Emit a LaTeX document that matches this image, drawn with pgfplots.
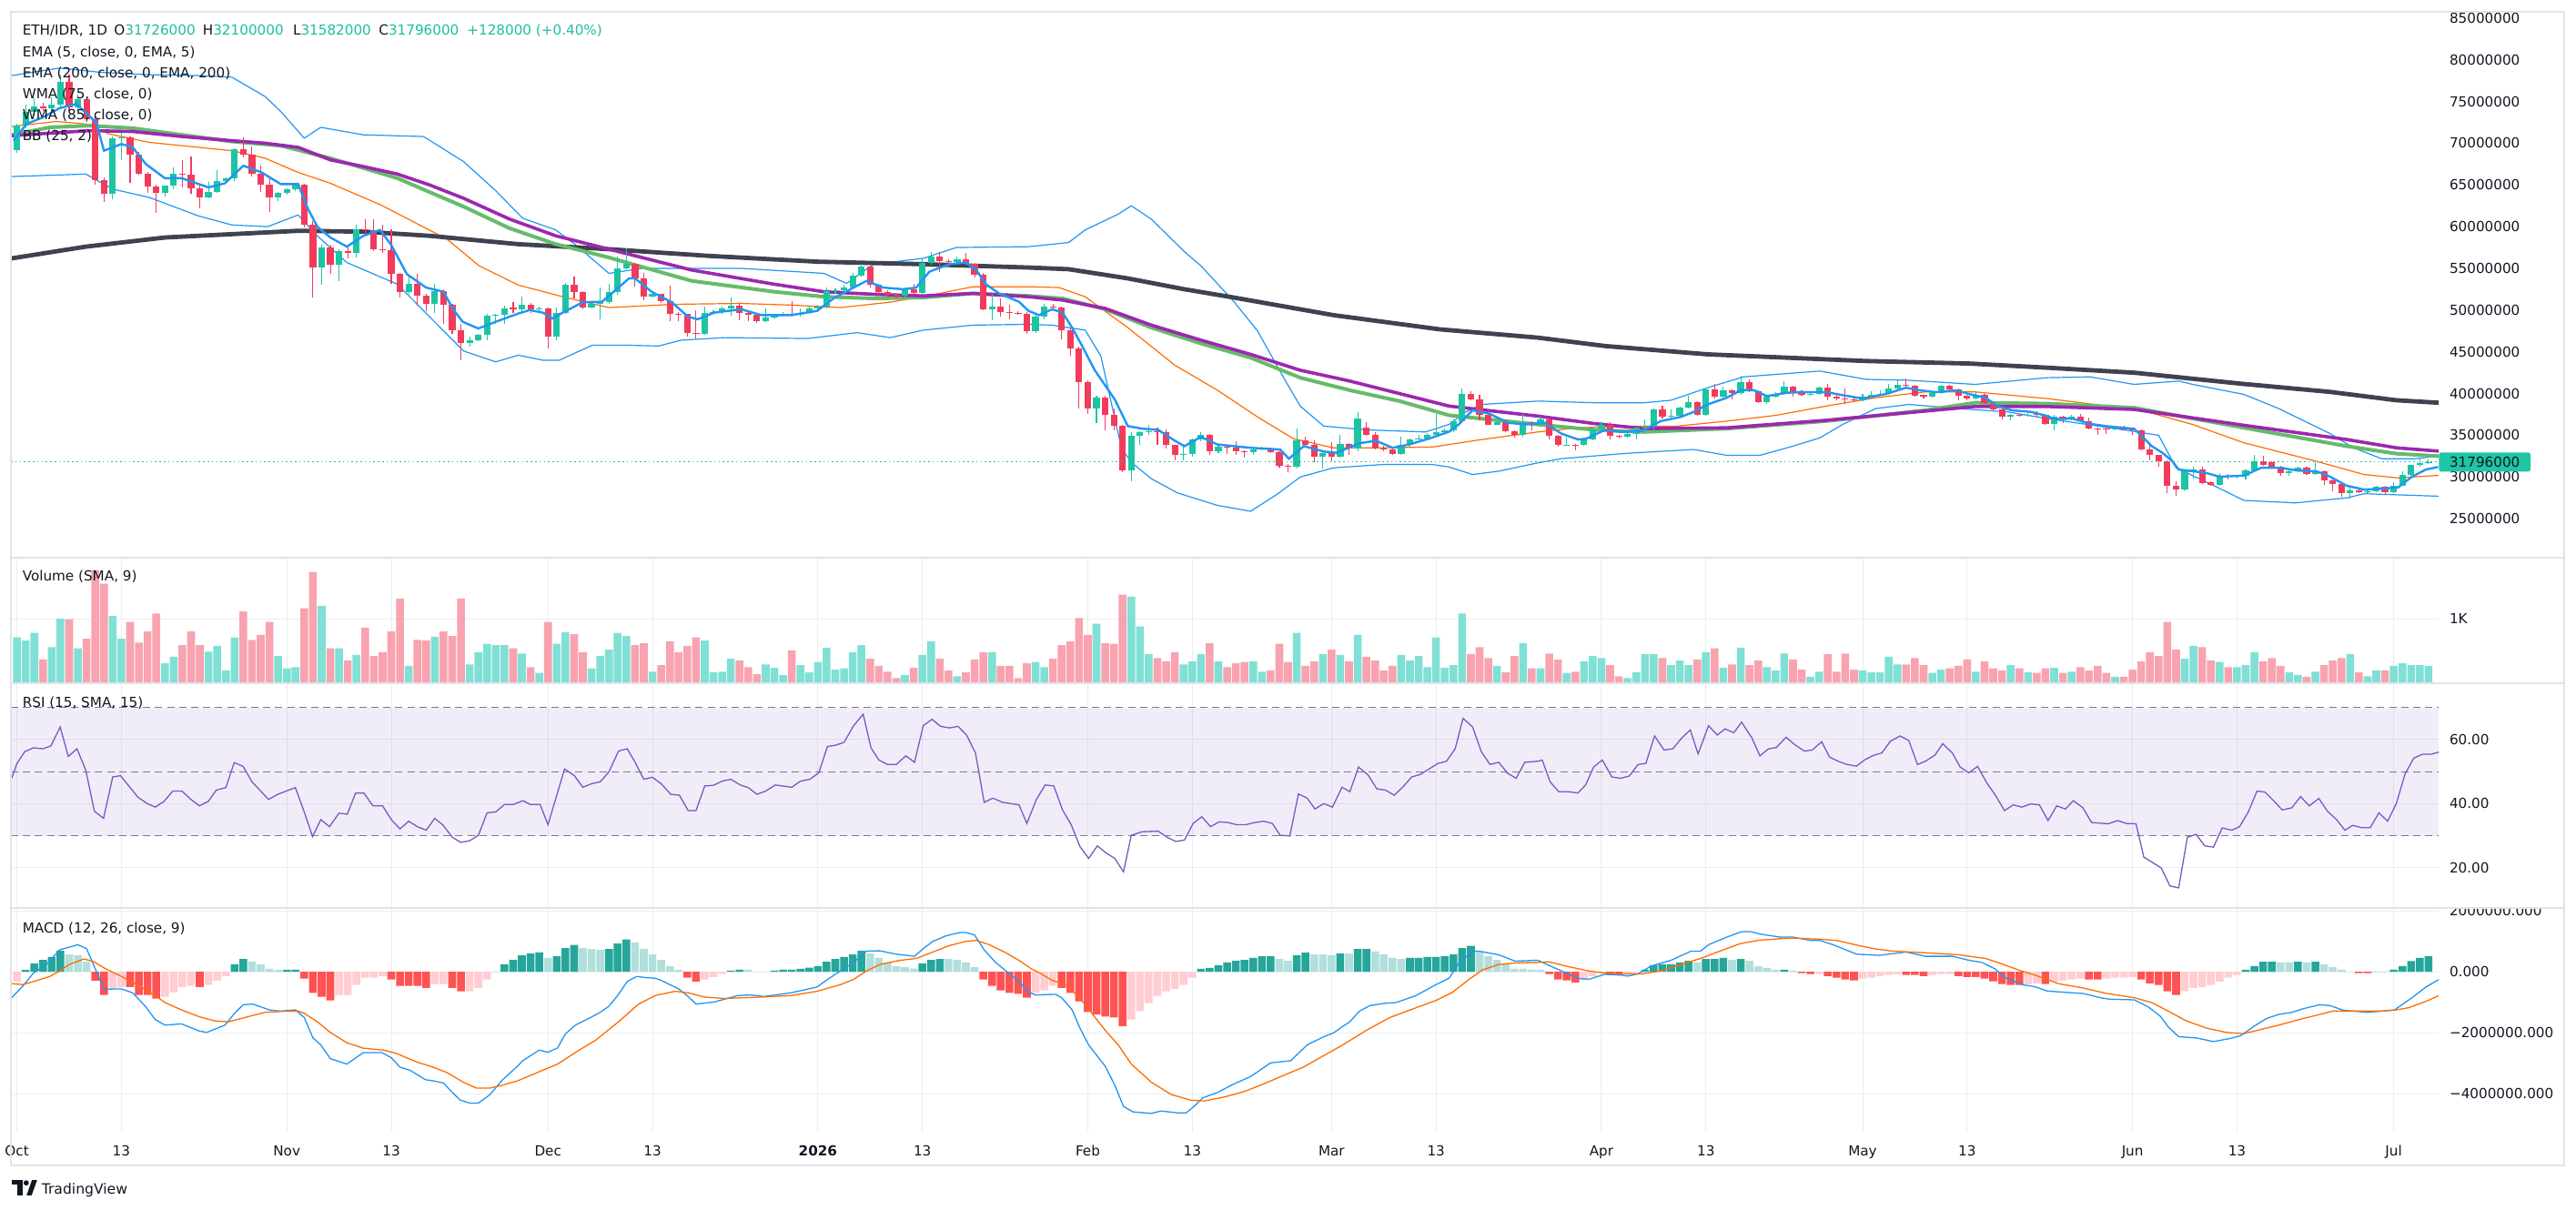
\documentclass[border=0pt]{standalone}
\usepackage{pgfplots}
\pgfplotsset{compat=1.18}
\usepackage{pgfplotstable}
\usepgfplotslibrary{fillbetween}
\usepackage{fontspec}
\setmainfont{DejaVu Sans}

\definecolor{upc}{HTML}{1DC4A4}
\definecolor{dnc}{HTML}{F23B5B}
\definecolor{volup}{HTML}{80E0D5}
\definecolor{voldn}{HTML}{F8A3AF}
\definecolor{emablk}{HTML}{3F4250}
\definecolor{wmag}{HTML}{66BB6A}
\definecolor{wmap}{HTML}{9C27B0}
\definecolor{bbo}{HTML}{FF6D00}
\definecolor{bbb}{HTML}{2196F3}
\definecolor{rsic}{HTML}{7E57C2}
\definecolor{hA}{HTML}{26A69A}
\definecolor{hB}{HTML}{B2DFDB}
\definecolor{hC}{HTML}{FFCDD2}
\definecolor{hD}{HTML}{FF5252}
\definecolor{gridc}{HTML}{EBEDF1}
\definecolor{textc}{HTML}{131722}
\definecolor{tealt}{HTML}{1DBF9F}
\definecolor{pricebg}{HTML}{1EC6A6}
\definecolor{framec}{HTML}{E0E3EB}
\definecolor{dashc}{HTML}{787B86}

\newcommand\tf{\fontsize{7.6}{9.1}\selectfont}

% d o h l c vol(K) macdhist histclass
\pgfplotstableread{
d o h l c v hm hk
0 69.2 72.3 68.8 72.1 0.71 -0.32 2
1 72.1 74.6 71.8 73.7 0.66 0.06 0
2 73.7 75.4 73.3 74.4 0.78 0.28 0
3 74.4 74.8 73.9 74.2 0.37 0.39 0
4 74.2 75.5 73.9 74.6 0.56 0.49 0
5 74.6 78.2 74.4 77.3 1.00 0.69 0
6 77.3 78.2 73.9 74.3 0.99 0.57 1
7 74.3 75.8 73.8 75.3 0.54 0.54 1
8 75.3 75.6 72.5 72.9 0.69 0.33 1
9 72.9 73.5 65.0 65.6 1.75 -0.29 3
10 65.6 65.9 63.0 63.9 1.54 -0.76 3
11 63.9 70.8 63.3 70.6 1.04 -0.53 2
12 70.6 71.2 68.0 70.7 0.69 -0.50 2
13 70.7 70.8 65.2 68.6 0.95 -0.50 3
14 68.6 68.9 66.2 66.3 0.63 -0.76 3
15 66.3 66.5 64.0 64.8 0.80 -0.76 3
16 64.8 65.0 61.6 64.0 1.08 -0.88 3
17 64.0 64.9 63.6 64.9 0.31 -0.82 2
18 64.9 67.1 64.5 66.3 0.41 -0.67 2
19 66.3 68.0 64.7 66.2 0.59 -0.50 2
20 66.2 68.4 63.9 64.6 0.80 -0.46 2
21 64.6 64.9 62.2 63.5 0.59 -0.50 3
22 63.5 65.3 63.4 64.2 0.49 -0.43 2
23 64.2 66.8 64.0 65.5 0.58 -0.29 2
24 65.5 65.9 65.4 65.8 0.20 -0.14 2
25 65.8 69.4 65.5 69.3 0.71 0.25 0
26 69.3 70.7 68.3 68.6 1.11 0.42 0
27 68.6 69.6 66.0 66.3 0.67 0.33 1
28 66.3 67.3 64.2 65.0 0.75 0.24 1
29 65.0 66.0 61.8 63.5 0.95 0.10 1
30 63.5 64.2 63.1 64.0 0.42 0.06 1
31 64.0 64.6 63.8 64.5 0.23 0.06 0
32 64.5 65.2 64.3 65.0 0.25 0.07 0
33 65.0 65.1 59.9 60.2 1.16 -0.22 3
34 60.2 60.7 51.5 55.1 1.72 -0.69 3
35 55.1 57.8 53.0 57.5 1.20 -0.82 3
36 57.5 57.8 54.3 55.4 0.54 -0.94 3
37 55.4 57.3 53.5 57.1 0.54 -0.76 2
38 57.1 57.5 56.2 56.8 0.35 -0.76 2
39 56.8 60.2 56.3 59.7 0.44 -0.43 2
40 59.7 60.9 58.8 59.6 0.86 -0.19 2
41 59.6 60.9 57.1 57.3 0.42 -0.19 2
42 57.3 60.2 56.8 57.2 0.48 -0.14 2
43 57.2 59.7 53.1 54.3 0.80 -0.25 3
44 54.3 54.4 51.5 52.2 1.31 -0.46 3
45 52.2 54.2 52.0 53.1 0.27 -0.46 3
46 53.1 54.3 50.5 51.7 0.67 -0.46 3
47 51.7 52.0 49.9 50.8 0.66 -0.53 3
48 50.8 53.1 49.7 52.3 0.72 -0.40 2
49 52.3 52.5 48.3 50.6 0.80 -0.40 2
50 50.6 50.8 47.1 47.6 0.73 -0.53 3
51 47.6 48.4 44.0 46.1 1.31 -0.64 3
52 46.1 46.8 45.6 46.4 0.29 -0.64 2
53 46.4 47.2 46.3 47.0 0.48 -0.53 2
54 47.0 49.6 46.4 49.3 0.61 -0.25 2
55 49.3 49.5 48.4 49.4 0.59 0.01 0
56 49.4 50.5 48.4 50.2 0.59 0.25 0
57 50.3 51.0 49.7 50.1 0.54 0.39 0
58 50.1 51.6 49.6 50.6 0.46 0.54 0
59 50.6 50.9 49.7 50.1 0.25 0.60 0
60 50.1 50.4 49.9 50.2 0.16 0.64 0
61 50.2 50.3 45.4 46.8 0.95 0.46 1
62 46.8 50.3 46.4 49.7 0.61 0.51 0
63 49.7 53.3 49.5 53.0 0.79 0.78 0
64 53.0 54.0 51.4 52.2 0.76 0.88 0
65 52.2 52.3 50.1 50.3 0.48 0.78 1
66 50.3 51.1 50.2 50.8 0.23 0.75 1
67 50.8 52.7 48.9 51.0 0.42 0.72 1
68 51.0 53.1 50.8 52.2 0.52 0.75 0
69 52.2 56.4 51.8 55.0 0.78 0.93 0
70 55.0 57.4 54.9 55.5 0.73 1.06 0
71 55.5 55.6 52.8 53.8 0.59 0.96 1
72 53.8 54.4 51.2 51.6 0.62 0.75 1
73 51.6 52.1 51.5 51.9 0.18 0.57 1
74 51.9 52.0 50.9 51.1 0.28 0.39 1
75 51.1 52.9 48.7 49.5 0.65 0.18 1
76 49.6 49.8 48.7 49.5 0.48 0.06 1
77 49.5 49.6 46.8 47.3 0.58 -0.19 3
78 47.3 50.0 46.6 47.2 0.71 -0.32 3
79 47.2 50.4 47.0 49.7 0.66 -0.25 2
80 49.7 50.0 49.5 49.8 0.17 -0.17 2
81 49.8 50.4 49.6 50.2 0.18 -0.07 2
82 50.2 51.5 49.3 50.5 0.38 0.04 0
83 50.5 50.9 48.8 49.7 0.35 0.07 0
84 49.7 49.8 48.7 49.4 0.25 0.07 1
85 49.4 49.5 48.5 48.7 0.14 0.01 1
86 48.7 50.2 48.6 49.1 0.29 0.00 1
87 49.1 49.6 49.0 49.5 0.24 0.04 0
88 49.5 49.8 49.3 49.6 0.13 0.07 0
89 49.6 51.1 49.2 49.4 0.51 0.07 0
90 49.4 50.2 49.2 49.7 0.28 0.10 0
91 49.7 50.5 49.6 50.2 0.17 0.14 0
92 50.2 50.6 50.0 50.4 0.33 0.18 0
93 50.4 52.7 50.2 52.3 0.55 0.33 0
94 52.3 52.6 52.0 52.4 0.21 0.42 0
95 52.4 53.0 52.2 52.7 0.23 0.49 0
96 52.7 54.5 52.5 54.1 0.48 0.57 0
97 54.1 55.5 54.0 55.2 0.59 0.69 0
98 55.2 55.3 52.7 53.0 0.38 0.60 1
99 53.0 53.1 51.6 52.2 0.27 0.46 1
100 52.2 52.4 51.5 51.8 0.18 0.31 1
101 51.8 52.0 51.4 51.7 0.08 0.18 1
102 51.7 52.7 51.5 52.5 0.13 0.15 1
103 52.5 53.1 51.8 52.1 0.24 0.11 1
104 52.1 56.2 51.9 55.6 0.44 0.28 0
105 55.6 57.0 55.4 56.4 0.65 0.39 0
106 56.4 57.0 54.6 55.9 0.38 0.42 0
107 55.9 56.1 55.6 55.8 0.20 0.42 1
108 55.8 56.4 55.6 56.1 0.11 0.39 1
109 56.1 56.8 55.3 55.5 0.17 0.31 1
110 55.5 55.6 53.9 54.2 0.37 0.15 1
111 54.2 54.5 50.0 50.1 0.48 -0.25 3
112 50.1 51.9 48.8 50.4 0.48 -0.46 3
113 50.4 51.4 49.2 49.8 0.27 -0.61 3
114 49.8 50.6 48.9 49.7 0.27 -0.69 3
115 49.7 49.9 49.4 49.6 0.08 -0.72 3
116 49.6 49.8 47.1 47.5 0.31 -0.85 3
117 47.5 49.4 47.3 49.2 0.33 -0.69 2
118 49.2 50.7 48.9 50.4 0.25 -0.61 2
119 50.4 50.8 50.1 50.3 0.38 -0.46 2
120 50.3 50.4 46.5 47.6 0.59 -0.53 3
121 47.6 47.8 44.5 45.4 0.65 -0.69 3
122 45.4 45.6 38.2 41.4 1.01 -0.97 3
123 41.4 41.6 37.6 38.2 0.75 -1.32 3
124 38.2 39.7 36.5 39.5 0.92 -1.40 3
125 39.5 39.7 35.6 37.5 0.62 -1.47 3
126 37.5 38.2 35.6 36.1 0.61 -1.50 3
127 36.1 36.3 30.6 30.8 1.37 -1.78 3
128 30.8 35.4 29.5 34.9 1.34 -1.57 2
129 34.9 35.5 33.8 35.4 0.88 -1.29 2
130 35.4 36.3 35.0 35.5 0.45 -1.03 2
131 35.5 35.9 33.8 35.4 0.39 -0.79 2
132 35.4 35.7 33.4 33.8 0.34 -0.64 2
133 33.8 33.9 32.0 32.6 0.48 -0.56 2
134 32.6 33.6 32.0 32.8 0.29 -0.43 2
135 32.8 34.6 32.4 34.5 0.34 -0.19 2
136 34.5 35.4 34.3 35.1 0.45 0.10 0
137 35.1 35.2 32.6 33.1 0.62 0.13 0
138 33.1 34.0 32.9 33.6 0.34 0.21 0
139 33.6 33.7 32.8 33.5 0.25 0.31 0
140 33.5 34.3 32.7 33.1 0.31 0.36 0
141 33.1 33.2 32.3 33.0 0.33 0.39 0
142 33.0 33.4 32.7 33.3 0.34 0.46 0
143 33.3 33.6 33.2 33.4 0.18 0.51 0
144 33.4 33.5 32.9 33.0 0.20 0.51 0
145 33.0 33.1 31.1 31.3 0.61 0.42 1
146 31.3 31.6 30.6 31.2 0.33 0.36 1
147 31.2 35.8 31.0 34.4 0.78 0.54 0
148 34.4 34.8 33.6 33.8 0.27 0.63 0
149 33.8 34.4 31.8 32.4 0.34 0.57 1
150 32.4 33.0 31.0 32.9 0.45 0.57 1
151 32.9 34.2 31.9 32.4 0.52 0.54 1
152 32.4 35.0 32.3 34.0 0.44 0.60 0
153 34.0 34.1 32.6 33.4 0.34 0.60 1
154 33.4 37.8 33.1 37.0 0.75 0.75 0
155 35.9 36.6 34.9 35.0 0.41 0.75 0
156 35.0 35.4 33.3 33.4 0.35 0.67 1
157 33.4 33.7 33.1 33.3 0.20 0.57 1
158 33.3 33.4 32.6 32.8 0.27 0.46 1
159 32.8 34.8 32.6 33.8 0.44 0.42 1
160 33.8 34.6 33.6 34.5 0.35 0.46 0
161 34.5 35.0 34.4 34.6 0.42 0.46 0
162 34.6 35.3 34.5 35.0 0.25 0.49 0
163 35.0 37.6 34.8 35.4 0.71 0.49 0
164 35.4 35.8 35.2 35.6 0.24 0.51 0
165 35.6 36.9 35.4 36.7 0.28 0.57 0
166 36.7 40.6 36.5 40.0 1.08 0.78 0
167 40.0 40.3 39.2 39.3 0.45 0.85 0
168 39.3 39.9 36.8 37.5 0.56 0.67 1
169 37.5 38.1 36.2 36.3 0.39 0.51 1
170 36.3 36.9 36.2 36.6 0.27 0.39 1
171 36.6 36.9 35.4 35.5 0.17 0.28 1
172 35.5 35.6 34.7 35.0 0.42 0.10 1
173 35.0 37.6 34.8 36.6 0.62 0.10 1
174 36.6 36.7 35.6 36.3 0.23 0.07 1
175 36.3 37.2 36.2 36.9 0.23 0.07 1
176 36.9 37.0 34.5 34.9 0.46 -0.07 3
177 34.9 35.0 33.6 33.8 0.37 -0.25 3
178 33.8 34.7 33.7 33.9 0.16 -0.28 3
179 33.9 34.0 33.2 33.8 0.18 -0.35 3
180 33.8 34.6 33.7 34.5 0.34 -0.25 2
181 34.5 36.0 34.4 35.8 0.42 -0.14 2
182 35.8 36.6 35.6 36.3 0.39 -0.04 2
183 36.3 36.6 34.5 34.9 0.28 -0.10 3
184 34.9 35.1 34.6 34.8 0.11 -0.10 3
185 34.8 35.3 34.7 35.2 0.08 -0.07 2
186 35.2 35.9 34.5 35.9 0.17 -0.04 2
187 35.9 36.9 35.8 36.0 0.45 0.07 0
188 36.0 38.2 35.4 38.1 0.45 0.21 0
189 38.1 38.5 37.0 37.2 0.39 0.25 0
190 37.2 38.1 37.1 37.3 0.28 0.25 0
191 37.3 38.4 37.2 38.3 0.35 0.31 0
192 38.3 39.7 38.2 39.0 0.28 0.36 0
193 39.0 39.1 37.3 37.4 0.37 0.31 1
194 37.4 40.6 37.3 40.5 0.48 0.42 0
195 40.5 41.2 39.4 39.6 0.54 0.42 0
196 39.6 40.8 39.5 40.4 0.24 0.46 0
197 40.4 40.5 39.3 40.1 0.29 0.39 1
198 40.1 42.1 39.8 41.4 0.55 0.42 0
199 41.4 41.7 40.2 40.3 0.28 0.36 1
200 40.3 40.4 38.9 39.0 0.35 0.18 1
201 39.0 39.7 38.8 39.6 0.25 0.13 1
202 39.6 40.2 39.5 40.0 0.20 0.07 1
203 40.0 41.5 39.9 40.8 0.46 0.07 0
204 40.8 40.9 39.6 40.2 0.37 0.04 1
205 40.2 40.4 39.7 39.8 0.21 -0.04 3
206 39.8 40.1 39.7 40.0 0.10 -0.07 3
207 40.0 40.8 39.9 40.7 0.18 -0.07 2
208 40.7 41.2 39.2 39.6 0.45 -0.14 3
209 39.6 39.8 39.2 39.4 0.18 -0.19 3
210 39.4 40.6 38.8 39.3 0.46 -0.25 3
211 39.3 39.5 39.0 39.2 0.21 -0.28 3
212 39.2 40.0 39.1 39.6 0.20 -0.22 2
213 39.6 40.3 39.5 39.9 0.17 -0.19 2
214 39.9 40.4 39.8 40.0 0.17 -0.14 2
215 40.0 41.2 39.9 40.6 0.41 -0.10 2
216 40.6 41.7 40.5 41.0 0.29 -0.07 2
217 41.0 41.8 40.8 40.9 0.29 -0.10 3
218 40.9 41.0 39.6 39.7 0.39 -0.10 3
219 39.8 39.9 39.4 39.6 0.28 -0.14 3
220 39.6 40.2 39.5 40.1 0.16 -0.10 2
221 40.1 41.0 40.0 40.9 0.21 -0.07 2
222 40.9 41.0 40.2 40.5 0.23 -0.07 2
223 40.5 40.6 39.2 39.7 0.27 -0.14 3
224 39.7 39.9 39.2 39.4 0.37 -0.17 3
225 39.4 40.3 39.3 39.9 0.18 -0.17 3
226 39.9 40.0 38.8 38.9 0.34 -0.22 3
227 38.9 39.1 38.0 38.1 0.23 -0.31 3
228 38.1 38.3 36.9 37.2 0.20 -0.40 3
229 37.2 37.6 36.8 37.5 0.28 -0.43 3
230 37.5 37.6 37.2 37.4 0.23 -0.43 3
231 37.4 37.7 37.2 37.5 0.17 -0.40 2
232 37.6 37.9 37.1 37.5 0.16 -0.38 2
233 37.5 37.6 36.3 36.4 0.23 -0.40 3
234 36.4 37.4 35.6 37.2 0.24 -0.32 2
235 37.2 37.3 36.5 36.9 0.16 -0.28 2
236 36.9 37.5 36.8 37.2 0.18 -0.25 2
237 37.2 37.6 36.6 36.7 0.25 -0.22 2
238 36.7 37.1 35.7 35.8 0.20 -0.25 3
239 35.8 35.9 35.0 35.7 0.27 -0.25 3
240 35.8 36.1 35.2 35.7 0.16 -0.22 2
241 35.7 36.0 35.6 35.9 0.10 -0.19 2
242 35.9 36.1 35.6 35.7 0.10 -0.19 2
243 35.7 35.8 35.0 35.6 0.21 -0.17 2
244 35.6 35.7 33.2 33.3 0.34 -0.25 3
245 33.3 33.9 32.0 32.6 0.48 -0.38 3
246 32.6 32.7 31.2 31.9 0.42 -0.43 3
247 31.9 32.0 28.1 28.9 0.95 -0.64 3
248 28.9 29.5 27.7 28.5 0.52 -0.76 3
249 28.5 30.9 28.4 30.7 0.38 -0.64 2
250 30.7 31.2 29.8 30.9 0.58 -0.53 2
251 30.9 31.2 29.2 29.3 0.56 -0.50 2
252 29.4 29.5 28.9 29.1 0.35 -0.43 2
253 29.1 30.5 29.0 30.2 0.33 -0.32 2
254 30.2 30.4 29.7 30.0 0.25 -0.19 2
255 30.0 30.3 29.8 30.1 0.25 -0.10 2
256 30.1 30.9 29.7 30.8 0.28 0.06 0
257 30.8 32.7 30.6 31.9 0.48 0.19 0
258 31.9 32.5 31.3 31.5 0.34 0.33 0
259 31.8 31.9 31.0 31.2 0.39 0.33 0
260 31.2 31.3 30.1 30.5 0.27 0.31 1
261 30.5 30.9 30.1 30.7 0.17 0.31 1
262 30.7 31.2 30.6 31.1 0.13 0.33 0
263 31.1 31.2 30.3 30.4 0.10 0.31 1
264 30.4 31.8 30.3 30.7 0.18 0.33 0
265 30.7 30.8 29.1 29.6 0.28 0.24 1
266 29.6 29.8 28.3 29.2 0.35 0.15 1
267 29.2 29.3 27.6 28.1 0.39 0.07 1
268 28.1 28.7 27.4 28.4 0.45 0.01 1
269 28.4 28.6 28.1 28.2 0.17 -0.04 3
270 28.2 28.5 28.0 28.3 0.11 -0.04 3
271 28.3 29.0 28.2 28.8 0.20 0.01 0
272 28.8 28.9 28.0 28.2 0.20 0.01 0
273 28.2 29.4 28.1 29.0 0.27 0.07 0
274 29.0 30.7 28.9 30.3 0.31 0.19 0
275 30.3 31.5 30.2 31.4 0.28 0.35 0
276 31.4 32.2 31.2 31.7 0.28 0.46 0
277 31.726 32.1 31.582 31.796 0.27 0.51 0
}\cand

\pgfplotstableread{
d y
-0.6 56.2
7.9 57.6
17 58.7
24.7 59.1
32.3 59.5
39.8 59.4
47.4 58.9
57.6 57.9
68 57.3
79.4 56.5
92 55.8
104.1 55.5
116.2 55.1
120.8 54.9
127.6 53.8
134.1 52.5
139.8 51.5
151.2 49.4
163.4 47.7
174.7 46.7
182.4 45.7
194.2 44.7
212.4 43.9
224.2 43.6
233.2 43.1
243.2 42.5
255.3 41.2
265.7 40.2
273.3 39.2
278.2 38.9
}\emaTwo

\pgfplotstableread{
d y
-0.6 70.9
3.8 71.2
8.3 71.5
13.3 71.4
18.95 70.8
24.7 70.3
28.5 70.0
32.3 69.5
36 68.0
39.8 67.2
43.7 66.3
47.4 65.0
51.3 63.4
56.6 60.9
61.9 58.9
68 57.3
77.5 54.8
87 53.1
92.7 52.2
98.4 51.9
104.1 51.7
109.8 52.0
116.2 51.6
120.1 51.2
125 50.2
130.3 48.2
136 46.4
141.7 44.7
147.4 42.8
153.1 41.5
158.8 40.0
164.5 38.5
174.7 37.3
181.2 36.4
186.9 35.8
196.4 35.9
207.8 36.8
219.2 37.9
224.9 38.45
233.2 38.45
243.2 38.1
255.8 36.2
267.6 34.5
273.3 33.5
278.2 33.1
}\wmaP

\pgfplotstableread{
d y
-0.6 71.0
3.8 71.9
8.3 72.1
13.3 71.8
18.95 71.0
24.7 70.2
30.3 69.7
36 68.2
43.7 65.8
51.3 62.4
56.6 59.8
61.9 57.9
68 56.3
77.5 53.5
87 52.2
92.7 51.6
98.4 51.4
104.1 51.5
109.8 52.0
116.2 51.7
120.1 51.4
125 50.1
130.3 47.9
136 46.0
141.7 44.3
147.4 41.9
153.1 40.4
158.8 39.1
164.5 37.4
174.7 36.3
181.2 35.65
186.9 35.4
196.4 35.8
207.8 36.7
219.2 38.0
224.9 38.9
233.2 38.8
243.2 38.3
255.8 35.9
267.6 33.7
273.3 32.8
278.2 32.5
}\wmaG

\pgfplotstableread{
d y
-0.6 72.0
4.5 72.6
7.9 72.3
10.6 71.1
15.2 70.1
18.95 69.7
24.7 69.1
28.5 68.2
32.3 66.5
36 65.2
41.8 62.6
49.4 58.5
53.1 55.3
57.6 53.0
62.7 51.6
68 50.3
75.6 50.7
83.2 50.8
88.9 50.6
94.6 50.3
100.3 50.95
106 52.0
109.8 52.8
116.2 52.8
119.7 52.7
122.7 51.6
127.6 47.9
133 43.4
137.9 40.4
142.5 37.2
146.6 34.6
151.2 33.5
156.9 33.5
162.6 33.6
168.3 34.5
174.7 35.4
179.3 35.9
185 36.1
190.7 36.1
196.4 36.7
202.1 37.4
207.8 38.5
213.5 39.5
219.2 40.2
224.9 40.2
233.2 39.4
244 38.0
249.9 36.3
255.8 34.1
263.7 32.0
269.6 30.3
273.5 29.9
278.2 30.2
}\bbBasis

\pgfplotstableread{
d y
-0.6 78.1
4.9 79.0
9.5 78.5
15.2 78.2
20.8 78.1
24.7 77.9
28.5 75.6
30.3 73.8
33 70.6
34.9 71.9
39.8 71.0
46.7 70.8
51.3 67.8
55 64.3
58.1 61.0
61.9 59.6
64.2 57.8
68 54.4
71.8 55.0
83.2 55.0
92.7 54.4
95.3 53.2
98.4 55.5
104.1 56.2
107.9 57.5
116.2 57.6
120.8 58.1
122.7 59.6
126.5 61.5
128 62.5
130.3 60.9
134.1 57.0
136 55.3
139.8 51.0
142.5 47.5
145.5 41.9
147.4 38.5
150.1 36.1
155 35.65
161.8 35.4
164.5 36.3
166.4 37.8
168.3 38.7
174.7 39.1
181.2 38.9
186.9 38.9
190 39.2
194.5 40.8
198.3 42.0
207.1 42.7
212.4 41.7
217.3 41.6
224.9 41.1
233.2 41.9
238.1 42.0
243.2 41.1
248.3 41.5
249.9 41.1
255.8 39.9
259.8 38.2
265.7 35.2
268.4 33.5
271.6 32.2
275.5 32.2
278.2 32.5
}\bbUp

\pgfplotstableread{
d y
-0.6 66.0
7.9 66.3
11 64.5
15.2 63.5
20.8 61.3
24.7 60.2
28.8 60.0
32.3 61.4
34.5 58.9
37.9 55.7
43.7 53.1
47.4 49.2
51.3 45.1
55 43.8
57.6 44.6
60.4 44.0
62.3 44.0
66.1 45.8
69.9 45.8
73.7 45.7
76.3 46.4
81.3 46.7
90.8 46.6
96.5 47.3
100.3 46.7
104.1 47.6
109.8 48.2
116.2 48.3
118.9 48.2
122.7 47.6
124.5 44.5
126.9 33.3
128.2 31.6
130.3 29.8
133.3 28.1
137.9 26.6
141.7 25.9
144.7 27.9
147.4 30.0
151.2 31.1
156.9 31.5
162.6 31.5
164.5 31.2
167.2 30.3
170.2 30.7
174.7 31.7
177.4 32.2
185 32.85
192.6 33.3
196.4 32.6
200.2 32.6
204 33.7
207.1 34.7
209.7 36.3
213.5 38.2
217.3 38.7
223 38.2
228.7 37.8
233.2 37.0
242 35.65
246 35.0
248 31.1
251.9 29.2
255.8 27.2
261.7 26.9
267.6 27.5
269.6 28.0
278.2 27.7
}\bbLo

\pgfplotstableread{
d y
-0.4 70.3
1.1 72.3
3 73.1
4.9 74.2
6.8 74.7
9.1 72.5
10 69.1
11 69.5
12 69.9
13.3 69.5
14.8 67.5
17 65.8
18.95 65.8
22 64.7
23.9 65.2
26 67.3
28.1 66.5
30.3 65.1
32.3 65.1
33.4 62.2
34.5 60.0
36 58.7
37.9 57.6
39.8 58.9
41.7 59.6
43 57.8
44.8 54.3
47 52.7
49 52.2
50.1 50.1
51.2 48.6
53 47.8
55 48.6
57.6 49.6
58.9 50.0
60.4 49.7
61.5 49.0
62.7 49.7
65 50.95
67.2 51.0
69.1 52.7
70.3 53.8
71 53.8
72.9 52.2
75.2 50.95
77.1 49.2
78.2 48.9
80.1 49.7
83.2 50.1
85.5 49.4
88.9 49.4
91.9 49.9
93.8 51.4
96.1 52.7
97.6 53.5
99.5 52.7
101.8 52.5
103.3 52.7
104.8 54.6
107.1 55.5
109 55.7
110.2 54.8
111.3 53.1
112.8 52.0
115.1 51.0
116.2 49.9
117.4 49.4
118.9 50.1
120.1 49.7
121.2 47.9
122.3 45.8
123.8 42.8
126.1 39.3
127.6 36.1
129.2 35.8
131.1 35.65
133 34.35
134.1 33.7
136 34.8
137.9 33.9
141.7 33.5
145.1 33.3
146.1 32.2
147.8 33.7
150.1 33.06
151.6 32.9
154.2 34.05
156.1 34.35
158 33.5
159.9 33.9
162.2 34.6
164.5 35.43
165.6 36.3
167.2 38.0
169.1 37.6
171.3 36.5
173.2 36.3
175.5 36.5
177.4 35.2
179.3 34.5
180.3 34.6
182.4 35.65
184.3 35.4
186.6 35.5
188.8 36.7
191.1 37.2
192.6 37.8
194.2 38.7
196.4 39.5
198 40.4
199.5 40.4
201 39.7
203.3 40.1
205.2 40.17
207.8 40.17
210.1 39.74
212 39.4
214.7 39.96
217 40.7
218.5 40.4
220.4 40.17
222.7 40.39
224.2 39.96
226.1 39.5
227.6 38.45
229.1 38.0
231.4 37.8
233.2 37.3
234.1 36.94
236.1 37.0
238.1 36.38
240.1 36.08
243.2 35.78
245.2 33.71
246.4 32.93
247.5 31.98
248.3 30.9
249.9 30.7
251.5 30.47
253 30.04
255.8 30.17
257.8 31.12
259.8 31.12
262.1 30.77
264.1 30.69
265.7 30.04
267.6 28.96
269.6 28.5
271.6 28.6
273.5 28.75
275.1 30.04
276.7 30.9
278.1 31.2
}\emaFive

\pgfplotstableread{
d y
-0.6 47.9
0 52.5
0.9 56.2
1.9 57.4
3 57.1
3.9 58.0
4.97 63.9
5.9 54.7
6.9 57.1
7.9 50.5
8.9 37.6
9.95 35.4
11 48.3
11.9 48.7
13.9 42.0
14.96 40.0
15.9 38.9
16.9 40.7
17.9 43.9
18.95 43.9
19.98 41.3
20.97 39.3
21.99 40.7
22.9 44.2
24 45.0
24.96 52.8
25.98 51.6
27 46.8
28.9 41.3
29.97 42.9
31.98 45.0
33 37.4
33.96 29.7
34.9 35.0
35.9 32.8
36.99 37.0
37.95 36.7
38.9 43.3
39.85 43.3
40.9 39.3
42 39.3
43 35.0
44 32.1
45 34.5
46 32.8
47 31.7
48 35.4
48.97 33.2
50 29.5
50.98 27.9
52 28.4
53 30.1
54 37.1
55 37.4
56 39.7
57 39.7
58.1 40.9
59 39.7
60.1 39.7
61 33.4
62.9 50.8
64 48.8
65 45.1
66 46.2
67 46.8
68 49.9
69.1 56.4
70.1 57.1
71 52.9
72 47.6
73 48.2
74 46.2
75.1 42.9
76.1 42.6
77.1 37.8
78 37.8
79 45.5
80 45.7
81 47.0
82 47.6
83.1 45.8
84 45.0
85 42.9
86 43.9
87.1 45.8
89 45.1
90 47.0
91.1 47.6
92.1 49.6
93.1 57.8
94 58.2
95 59.1
96.1 64.3
97.2 67.9
98.1 57.4
99 53.6
100 52.2
101 52.2
102.1 54.9
103.1 52.9
104.1 64.3
105.1 66.3
106.1 64.1
107.1 63.6
108.1 64.1
109.1 61.3
110.1 55.8
111.1 40.4
112.1 41.7
113.2 40.4
115.1 39.6
116 33.8
117.1 41.3
118.1 45.8
119.1 45.5
120.1 38.0
121.1 33.4
122.1 26.6
123.1 22.9
124.1 26.8
125.1 24.6
126.1 22.9
127.1 18.7
128 30.1
129.2 31.2
131.1 31.4
132.1 29.5
133.1 28.2
134.1 28.6
135.1 33.8
136.1 35.9
137.1 32.8
138.1 34.3
139.1 34.1
140.1 33.4
141.1 33.4
142.2 34.1
143.2 34.5
144.2 33.8
145.1 30.1
146.2 29.9
147.2 43.0
148.2 41.7
149.1 38.3
150.1 40.0
151.1 38.9
152.2 45.1
153.1 43.7
154.1 51.4
155.2 48.9
156.2 44.6
157.2 44.2
158.2 42.6
159.2 45.2
160.2 48.3
161.2 49.1
162.2 50.8
163.2 52.5
164.2 53.2
165.2 57.1
166.1 66.6
167.2 63.9
168.2 56.2
169.2 52.2
170.2 52.9
171.2 49.5
172.2 47.9
173.2 52.9
174.7 53.2
175.2 53.6
176.1 46.8
177.1 43.7
178.2 43.7
179.3 43.3
180.2 45.9
181.1 51.4
182.1 53.6
183.2 48.3
184.2 47.9
185.2 48.6
186.2 52.2
187.1 52.5
188.1 61.1
189.2 56.7
190.2 57.1
191.2 60.4
192.2 63.0
193.1 55.5
194.3 64.3
195.3 61.4
196.2 63.3
197.2 62.1
198.1 65.4
199.3 60.4
200.2 54.9
201.2 57.1
202.1 57.5
203.2 60.7
204.2 58.4
205.3 56.4
206.2 56.7
207.3 59.3
208.2 54.5
209.2 53.2
210.2 52.2
211.3 51.7
212.2 53.6
213.3 55.1
214.2 55.8
215.2 59.5
216.3 61.1
217.3 59.7
218.3 52.2
219.2 53.2
220.3 55.1
221.2 58.7
222.3 55.8
223.2 51.4
224.2 49.6
225.2 51.6
226.3 46.3
227.3 42.4
228.3 37.8
229.3 39.6
230.3 38.9
231.3 39.9
232.3 39.6
233.3 34.7
234.3 39.3
235.3 38.3
236.2 40.9
237.3 38.7
238.3 34.1
240.2 33.7
241.3 34.7
242.3 33.8
243.4 33.7
244.3 23.3
245.3 21.6
246.3 19.9
247.3 14.3
248.3 13.7
249.3 29.5
250.3 30.4
251.3 26.8
252.3 26.4
253.3 32.4
254.4 31.7
255.3 32.8
256.3 37.4
257.3 43.9
258.2 43.6
259.2 40.9
260.2 38.0
261.3 38.7
262.3 42.2
263.3 39.3
264.4 41.6
265.4 37.6
266.4 35.1
267.4 31.7
268.3 33.2
269.3 32.5
270.3 32.5
271.3 37.1
272.3 34.5
273.3 40.0
274.3 49.2
275.3 54.2
276.3 55.4
277.3 55.4
278.2 56.1
}\rsi

\pgfplotstableread{
d y
-0.6 -0.85
0.7 -0.46
1.9 -0.04
3.4 0.24
4.9 0.72
7 0.89
8 0.76
9 0.10
10 -0.57
12 -0.56
13.3 -0.69
14.8 -1.15
15.9 -1.57
17 -1.75
18.9 -1.71
20.9 -1.94
21.8 -1.99
23.9 -1.75
25 -1.36
26 -1.08
27.1 -1.06
29 -1.25
30.2 -1.29
32 -1.25
33 -1.50
34 -2.17
34.9 -2.40
36 -2.85
37.9 -3.03
39.8 -2.65
41.9 -2.65
43 -2.82
44 -3.13
45.2 -3.24
46.9 -3.54
47.8 -3.58
49 -3.65
49.9 -3.93
50.9 -4.21
52 -4.31
53 -4.31
54.3 -4.04
55.8 -3.54
57.5 -3.10
58.1 -2.92
60 -2.57
61 -2.64
62.1 -2.50
63 -2.04
64.2 -1.74
65.7 -1.53
67 -1.33
68 -1.13
69.1 -0.74
70.1 -0.32
71.2 -0.15
72.2 -0.19
73.3 -0.21
74 -0.28
76 -0.56
77.1 -0.81
78 -1.06
80.1 -0.99
82.8 -0.78
84.3 -0.76
85.8 -0.81
88.9 -0.69
91.9 -0.50
93.1 -0.25
94.6 0.03
96.1 0.31
97.6 0.68
99.1 0.69
101 0.58
103.1 0.51
104.1 0.76
105.2 1.00
106.7 1.18
108.3 1.29
109 1.29
110 1.21
111.1 0.72
112.4 0.31
113.6 0.03
115.1 -0.32
116.2 -0.67
117 -0.76
119.3 -0.74
120 -0.85
121.2 -1.25
122.1 -1.85
123.1 -2.40
125 -3.10
126.1 -3.72
127.1 -4.42
128.2 -4.60
130.3 -4.65
131.4 -4.57
133.3 -4.63
134.3 -4.63
135.2 -4.42
136.2 -4.14
137.9 -3.96
139.8 -3.68
141.7 -3.44
144 -2.99
146.3 -2.92
148.2 -2.40
150.1 -2.13
151.2 -2.01
152.2 -1.81
153.1 -1.64
154.2 -1.29
155.4 -1.11
156.9 -1.04
158.4 -1.01
160.7 -0.78
163 -0.42
164.5 -0.21
165.6 0.28
167.2 0.68
167.9 0.68
170.2 0.56
172.1 0.35
174.7 0.38
176.3 0.17
177.4 0.03
179.3 -0.21
180.5 -0.25
182.4 -0.08
184.3 -0.11
185 -0.14
186.2 -0.07
187.7 0.19
190 0.38
192.3 0.68
193.4 0.68
194.3 0.89
196.4 1.14
198.1 1.32
199.1 1.32
200.2 1.24
202.5 1.14
204 1.14
206 1.03
207.1 1.03
208.6 0.89
211.3 0.58
213.9 0.54
217 0.65
219.2 0.51
222.3 0.51
224.2 0.38
225.7 0.31
227.2 0.10
228.3 -0.18
230.3 -0.42
231.8 -0.49
233.2 -0.63
236.1 -0.69
237.3 -0.71
239.3 -0.85
240.4 -0.90
243.2 -0.92
244.8 -1.15
246.2 -1.46
247.1 -1.81
248.3 -2.13
250.3 -2.17
252.3 -2.29
254.2 -2.19
255.4 -2.10
257 -1.78
258.4 -1.53
259.8 -1.40
261.3 -1.33
262.5 -1.22
264.5 -1.08
265.7 -1.11
267.2 -1.26
270 -1.33
271.6 -1.29
273.1 -1.25
275.1 -0.85
276.7 -0.50
278.2 -0.25
}\macd

\pgfplotstableread{
d y
-0.6 -0.39
0.7 -0.42
1.9 -0.32
3.8 -0.15
4.9 0.03
6 0.24
7.7 0.42
8.7 0.35
10.2 0.10
12 -0.15
14 -0.46
15.9 -0.78
17 -1.01
18.9 -1.25
20.9 -1.47
22.7 -1.61
24.3 -1.64
26.2 -1.50
28.5 -1.33
31.1 -1.29
32.3 -1.29
33 -1.36
34.5 -1.64
36 -1.99
37.9 -2.33
39.8 -2.51
42.1 -2.57
43.6 -2.68
45.9 -2.96
47.5 -3.10
49.4 -3.31
51.3 -3.63
52.8 -3.82
54.3 -3.82
55.8 -3.72
57.5 -3.58
60 -3.28
62.1 -3.03
64.2 -2.64
66.5 -2.24
69.1 -1.64
71.4 -1.06
73.3 -0.78
75.6 -0.64
77.1 -0.69
79 -0.83
81.3 -0.875
85.5 -0.83
88.9 -0.78
91.9 -0.64
94.6 -0.42
96.1 -0.25
97.6 0.03
99.1 0.24
101.4 0.375
103.3 0.44
105.2 0.65
107.1 0.86
109 1.00
110.2 1.03
111.7 0.89
113.6 0.625
115.1 0.375
116.5 0.10
117.5 -0.04
118.9 -0.28
120.8 -0.46
122.7 -1.08
125 -1.92
126.5 -2.40
128 -3.03
130.3 -3.625
132.6 -4.03
134.9 -4.22
136.4 -4.24
138.7 -4.11
141 -3.93
143.2 -3.68
145.5 -3.40
147.8 -3.125
150.1 -2.75
152.3 -2.40
155 -1.92
157.7 -1.50
160.7 -1.18
163 -0.94
164.9 -0.67
166.8 -0.25
168.3 0.06
170.2 0.24
172.1 0.29
174.7 0.31
175.9 0.33
178.2 0.17
180.5 0.03
182.4 -0.04
184.7 -0.07
186.6 -0.07
188.8 0.03
191.1 0.24
193.4 0.44
195.7 0.69
198 0.93
200.2 1.04
203.7 1.11
207.1 1.07
209 1.03
211.6 0.86
213.5 0.75
215.4 0.68
219.2 0.625
223 0.56
226.1 0.44
228 0.26
229.9 0.06
231.8 -0.11
234.5 -0.39
237.3 -0.53
240 -0.71
243.2 -0.85
245.2 -1.01
247.1 -1.29
249.1 -1.60
251.5 -1.85
253.8 -1.99
255.8 -2.03
257.8 -1.89
259.8 -1.75
262.1 -1.57
264.5 -1.40
266 -1.29
268.4 -1.29
271.6 -1.29
273.1 -1.26
274.7 -1.18
276.7 -0.97
278.2 -0.78
}\signal

\pgfplotsset{
  tv/.style={
    scale only axis, width=1334pt, anchor=south west,
    xmin=-0.69, xmax=278.16,
    axis line style={draw=none}, major tick length=0pt,
    xtick={0,12,31,43,61,73,92,104,123,135,151,163,182,194,212,224,243,255,273},
    xticklabels={,,,,,,,,,,,,,,,,,,,,},
    grid=major, grid style={color=gridc, line width=0.5pt},
    yticklabel pos=right,
    yticklabel style={anchor=west, inner sep=0pt, xshift=5.8pt, font=\tf, text=textc, text height=5.5pt, text depth=0pt},
    xticklabel style={anchor=center, yshift=-10.2pt, inner sep=0pt, font=\tf, text=textc, text height=5.5pt, text depth=0pt},
  },
  candle/.style={draw=none, mark=none, forget plot,
    error bars/.cd, y dir=plus, y explicit, error mark=none}
}

\begin{document}
\begin{tikzpicture}[x=1pt,y=1pt]
\fill[white] (0,0) rectangle (1415.5,664.5);

% ---------------- main price panel
\begin{axis}[tv, at={(6pt,358.2pt)}, height=299.8pt, ymin=20.38, ymax=85.74,
  ytick={25,30,35,40,45,50,55,60,65,70,75,80,85},
  yticklabels={25000000,30000000,35000000,40000000,45000000,50000000,55000000,60000000,65000000,70000000,75000000,80000000,85000000}]
\addplot[draw=none, name path=U] table[x=d,y=y] {\bbUp};
\addplot[draw=none, name path=L] table[x=d,y=y] {\bbLo};
\addplot[fill=bbb, fill opacity=0.055, draw=none] fill between[of=U and L];
\addplot[bbb, line width=0.6pt] table[x=d,y=y] {\bbUp};
\addplot[bbb, line width=0.6pt] table[x=d,y=y] {\bbLo};
\addplot[bbo, line width=0.6pt] table[x=d,y=y] {\bbBasis};
\addplot[emablk, line width=2.4pt] table[x=d,y=y] {\emaTwo};
\addplot[wmag, line width=2pt] table[x=d,y=y] {\wmaG};
\addplot[wmap, line width=1.8pt] table[x=d,y=y] {\wmaP};
% candles: wicks and bodies (up)
\addplot[restrict expr to domain={\thisrow{c}-\thisrow{o}}{0:100},
  candle, error bar style={draw=upc, line width=0.55pt}]
  table[x=d, y=l, y error plus expr=\thisrow{h}-\thisrow{l}] {\cand};
\addplot[restrict expr to domain={\thisrow{c}-\thisrow{o}}{0:100},
  candle, error bar style={draw=upc, line width=3.6pt}]
  table[x=d, y=o, y error plus expr={max(\thisrow{c}-\thisrow{o},0.09)}] {\cand};
% (down)
\addplot[restrict expr to domain={\thisrow{c}-\thisrow{o}}{-100:-0.0001},
  candle, error bar style={draw=dnc, line width=0.55pt}]
  table[x=d, y=l, y error plus expr=\thisrow{h}-\thisrow{l}] {\cand};
\addplot[restrict expr to domain={\thisrow{c}-\thisrow{o}}{-100:-0.0001},
  candle, error bar style={draw=dnc, line width=3.6pt}]
  table[x=d, y=c, y error plus expr={max(\thisrow{o}-\thisrow{c},0.09)}] {\cand};
\addplot[bbb, line width=1.2pt] table[x=d,y=y] {\emaFive};
\addplot[tealt, line width=0.6pt, dash pattern=on 0.8pt off 1.6pt] coordinates {(-0.69,31.796) (278.16,31.796)};
\coordinate (pricept) at (axis cs:278.16,31.796);
\end{axis}

% ---------------- volume panel
\begin{axis}[tv, at={(6pt,288.95pt)}, height=69.25pt, ymin=0, ymax=1.948,
  ytick={1}, yticklabels={1K}]
\addplot[ybar, bar width=4.3pt, bar shift=0pt, fill=volup, draw=none,
  restrict expr to domain={\thisrow{c}-\thisrow{o}}{0:100}] table[x=d,y=v] {\cand};
\addplot[ybar, bar width=4.3pt, bar shift=0pt, fill=voldn, draw=none,
  restrict expr to domain={\thisrow{c}-\thisrow{o}}{-100:-0.0001}] table[x=d,y=v] {\cand};
\end{axis}

% ---------------- RSI panel
\begin{axis}[tv, at={(6pt,165.3pt)}, height=123.65pt, ymin=7.32, ymax=77.52,
  ytick={20,40,60}, yticklabels={20.00,40.00,60.00}]
\fill[rsic, fill opacity=0.1] (axis cs:-0.69,30) rectangle (axis cs:278.16,70);
\addplot[dashc, line width=0.5pt, dash pattern=on 4pt off 2.6pt] coordinates {(-0.69,70) (278.16,70)};
\addplot[dashc, line width=0.5pt, dash pattern=on 4pt off 2.6pt] coordinates {(-0.69,50) (278.16,50)};
\addplot[dashc, line width=0.5pt, dash pattern=on 4pt off 2.6pt] coordinates {(-0.69,30) (278.16,30)};
\addplot[rsic, line width=0.65pt] table[x=d,y=y] {\rsi};
\end{axis}

% ---------------- MACD panel
\begin{axis}[tv, at={(6pt,42.3pt)}, height=123pt, ymin=-5.264, ymax=2.085,
  ytick={-4,-2,0,2}, yticklabels={−4000000.000,−2000000.000,0.000,2000000.000},
  xticklabels={Oct,13,Nov,13,Dec,13,\textbf{2026},13,Feb,13,Mar,13,Apr,13,May,13,Jun,13,Jul}]
\addplot[ybar, bar width=4.3pt, bar shift=0pt, fill=hA, draw=none,
  restrict expr to domain={\thisrow{hk}}{-0.5:0.5}] table[x=d,y=hm] {\cand};
\addplot[ybar, bar width=4.3pt, bar shift=0pt, fill=hB, draw=none,
  restrict expr to domain={\thisrow{hk}}{0.5:1.5}] table[x=d,y=hm] {\cand};
\addplot[ybar, bar width=4.3pt, bar shift=0pt, fill=hC, draw=none,
  restrict expr to domain={\thisrow{hk}}{1.5:2.5}] table[x=d,y=hm] {\cand};
\addplot[ybar, bar width=4.3pt, bar shift=0pt, fill=hD, draw=none,
  restrict expr to domain={\thisrow{hk}}{2.5:3.5}] table[x=d,y=hm] {\cand};
\addplot[bbb, line width=0.65pt] table[x=d,y=y] {\macd};
\addplot[bbo, line width=0.65pt] table[x=d,y=y] {\signal};
\end{axis}

% clip top of the 2000000.000 label like the reference
\fill[white] (1341,165.8) rectangle (1408.5,171);

% ---------------- frame and separators
\draw[framec, line width=0.9pt] (6,24) rectangle (1409,658);
\draw[framec, line width=1pt] (6,358.2) -- (1409,358.2);
\draw[framec, line width=1pt] (6,288.95) -- (1409,288.95);
\draw[framec, line width=1pt] (6,165.3) -- (1409,165.3);

% price label
\node[fill=pricebg, text=textc, anchor=west, inner xsep=5.8pt, inner ysep=0pt,
  minimum height=10.5pt, font=\tf, rounded corners=1.2pt, text height=5.5pt, text depth=0pt] at (pricept) {31796000};

% legend texts
\begin{scope}[every node/.style={anchor=west, inner sep=0pt, font=\tf, text=textc, text height=5.5pt, text depth=0pt}]
\node at (12.2,647.8) {ETH/IDR, 1D};
\node at (62.5,647.8) {O\textcolor{tealt}{31726000}};
\node at (111.25,647.8) {H\textcolor{tealt}{32100000}};
\node at (160.85,647.8) {L\textcolor{tealt}{31582000}};
\node at (208,647.8) {C\textcolor{tealt}{31796000}};
\node at (256.5,647.8) {\textcolor{tealt}{+128000 (+0.40\%)}};
\node at (12.2,636.2) {EMA (5, close, 0, EMA, 5)};
\node at (12.2,624.5) {EMA (200, close, 0, EMA, 200)};
\node at (12.2,612.8) {WMA (75, close, 0)};
\node at (12.2,601.5) {WMA (85, close, 0)};
\node at (12.2,590) {BB (25, 2)};
\node at (12.2,347.75) {Volume (SMA, 9)};
\node at (12.2,278.3) {RSI (15, SMA, 15)};
\node at (12.2,154.6) {MACD (12, 26, close, 9)};
\end{scope}

% TradingView mark
\fill[textc] (6.5,16) rectangle (12.3,13.4);
\fill[textc] (9.6,13.4) rectangle (12.3,7.6);
\fill[textc] (14.4,14.4) circle (1.45);
\fill[textc] (14.6,7.6) -- (17.6,16) -- (20.4,16) -- (17.4,7.6) -- cycle;
\node[anchor=west, inner sep=0pt, font=\fontsize{7.8}{9.3}\selectfont, text=textc, text height=5.6pt, text depth=0pt] at (22.7,11.2) {TradingView};

\pgfresetboundingbox
\useasboundingbox (0,0) rectangle (1415.5,664.5);
\end{tikzpicture}
\end{document}
